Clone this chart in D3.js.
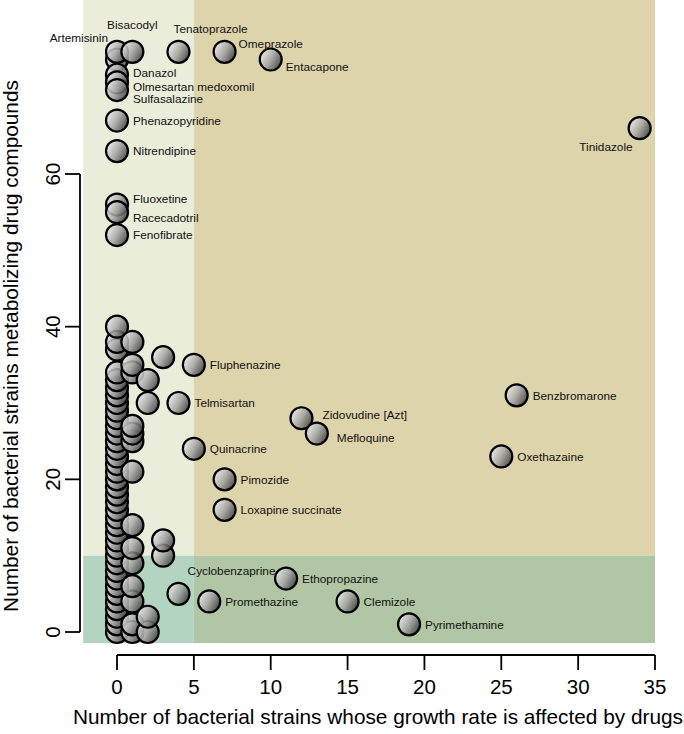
<!DOCTYPE html>
<html>
<head>
<meta charset="utf-8">
<script src="https://cdn.jsdelivr.net/npm/d3@7"></script>
<style>
  html, body { margin: 0; padding: 0; background: #ffffff; }
  svg { display: block; font-family: "Liberation Sans", Arial, Helvetica, sans-serif; }
</style>
</head>
<body>
<svg id="chart" width="684" height="734"></svg>
<script>
// ---------------- data ----------------
// labelled drugs: name, growth-affected strains (x), metabolizing strains (y)
const drugNames = ["Artemisinin","Bisacodyl","Tenatoprazole","Omeprazole","Entacapone",
  "Danazol","Olmesartan medoxomil","Sulfasalazine","Phenazopyridine","Nitrendipine",
  "Fluoxetine","Racecadotril","Fenofibrate","Tinidazole","Fluphenazine","Telmisartan",
  "Zidovudine [Azt]","Mefloquine","Quinacrine","Pimozide","Loxapine succinate",
  "Benzbromarone","Oxethazaine","Cyclobenzaprine","Ethopropazine","Promethazine",
  "Clemizole","Pyrimethamine"];
const drugX = [0,1,4,7,10, 0,0,0,0,0, 0,0,0,34,5,4, 12,13,5,7,7, 26,25,4,11,6, 15,19];
const drugY = [76,76,76,76,75, 73,72,71,67,63, 56,55,52,66,35,30, 28,26,24,20,16, 31,23,5,7,4, 4,1];

// unlabelled drugs
const otherX = [
  0,0,0,0,0,0,0,0,0,0,0,0,0,0,0,0,0,0,0,0,0,0,0,0,0,0,0,0,0,0,0,0,0,0,0,0,0,0,0,
  1,1,1,1,1,1,1,1,1,1,1,1,1,1,
  2,2,2,2,
  3,3,3
];
const otherY = [
  0,1,2,3,4,5,6,7,8,9,10,11,12,13,14,15,16,17,18,19,20,21,22,23,24,25,26,27,28,29,30,31,32,33,34,37,38,40,75,
  0,1,4,6,9,11,14,21,25,26,27,34,35,38,
  0,2,30,33,
  10,12,36
];

const xTicks = [0,5,10,15,20,25,30,35];
const yTicks = [0,20,40,60];
const xTitle = "Number of bacterial strains whose growth rate is affected by drugs";
const yTitle = "Number of bacterial strains metabolizing drug compounds";

// region boundaries (data units)
const xSplit = 5, ySplit = 10;
const xLo = -2.2, xHi = 35, yLo = -1.45, yHi = 84;

// ---------------- layout ----------------
const svg = d3.select("#chart");
const x = d3.scaleLinear().domain([0, 35]).range([117, 655]);
const y = d3.scaleLinear().domain([0, 60]).range([632, 174]);

// label placement (px offsets from point)
const labelPos = {
  "Artemisinin": [-9, -14, "end"],
  "Bisacodyl": [0, -27, "middle"],
  "Tenatoprazole": [-5, -23, "start"],
  "Omeprazole": [14, -8, "start"],
  "Entacapone": [15, 7, "start"],
  "Danazol": [16, -2, "start"],
  "Olmesartan medoxomil": [16, 4, "start"],
  "Sulfasalazine": [16, 9, "start"],
  "Fluoxetine": [16, -6, "start"],
  "Racecadotril": [16, 6, "start"],
  "Tinidazole": [-7, 19, "end"],
  "Zidovudine [Azt]": [21, -3, "start"],
  "Mefloquine": [20, 4, "start"],
  "Cyclobenzaprine": [97, -23, "end"]
};

// ---------------- background regions ----------------
const regions = [
  {x0: xLo, x1: xSplit, y0: ySplit, y1: yHi, c: "#e9edd9"},
  {x0: xSplit, x1: xHi, y0: ySplit, y1: yHi, c: "#ddd4ac"},
  {x0: xLo, x1: xSplit, y0: yLo, y1: ySplit, c: "#b3d4c0"},
  {x0: xSplit, x1: xHi, y0: yLo, y1: ySplit, c: "#b0c6a4"}
];
svg.append("g").selectAll("rect").data(regions).join("rect")
  .attr("x", d => x(d.x0)).attr("y", d => y(d.y1))
  .attr("width", d => x(d.x1) - x(d.x0)).attr("height", d => y(d.y0) - y(d.y1))
  .attr("fill", d => d.c);

// ---------------- gradient ----------------
const defs = svg.append("defs");
const grad = defs.append("linearGradient").attr("id", "ball")
  .attr("x1", "0.05").attr("y1", "0.25").attr("x2", "0.95").attr("y2", "0.75");
grad.append("stop").attr("offset", "0").attr("stop-color", "#ececec");
grad.append("stop").attr("offset", "0.5").attr("stop-color", "#a2a2a2");
grad.append("stop").attr("offset", "1").attr("stop-color", "#3a3a3a");

// ---------------- points ----------------
const others = otherX.map((v, i) => ({x: v, y: otherY[i]}));
const drugs = drugNames.map((n, i) => ({name: n, x: drugX[i], y: drugY[i]}));
const allPts = others.concat(drugs);

svg.append("g").selectAll("circle").data(allPts).join("circle")
  .attr("cx", d => x(d.x)).attr("cy", d => y(d.y)).attr("r", 11)
  .attr("fill", "url(#ball)").attr("fill-opacity", 0.85)
  .attr("stroke", "#000").attr("stroke-width", 2.2);

// labels
svg.append("g").selectAll("text").data(drugs).join("text")
  .attr("x", d => x(d.x) + (labelPos[d.name] ? labelPos[d.name][0] : 16))
  .attr("y", d => y(d.y) + (labelPos[d.name] ? labelPos[d.name][1] : 0) + 4.2)
  .attr("text-anchor", d => labelPos[d.name] ? labelPos[d.name][2] : "start")
  .attr("font-size", "11.8px").attr("fill", "#111")
  .text(d => d.name);

// ---------------- axes ----------------
const axisG = svg.append("g").attr("stroke", "#000").attr("stroke-width", 1.8).attr("fill", "none");
// x axis
axisG.append("line").attr("x1", x(0)).attr("x2", x(35)).attr("y1", 655).attr("y2", 655);
axisG.selectAll(".xt").data(xTicks).join("line").attr("class", "xt")
  .attr("x1", d => x(d)).attr("x2", d => x(d)).attr("y1", 655).attr("y2", 670);
svg.append("g").selectAll("text").data(xTicks).join("text")
  .attr("x", d => x(d)).attr("y", 694).attr("text-anchor", "middle")
  .attr("font-size", "20.5px").attr("fill", "#000").text(d => d);
// y axis
axisG.append("line").attr("x1", 80).attr("x2", 80).attr("y1", y(0)).attr("y2", y(60));
axisG.selectAll(".yt").data(yTicks).join("line").attr("class", "yt")
  .attr("x1", 65).attr("x2", 80).attr("y1", d => y(d)).attr("y2", d => y(d));
svg.append("g").selectAll("text").data(yTicks).join("text")
  .attr("transform", d => `translate(60,${y(d)}) rotate(-90)`)
  .attr("text-anchor", "middle")
  .attr("font-size", "20.5px").attr("fill", "#000").text(d => d);

// titles
svg.append("text").attr("x", 378).attr("y", 724).attr("text-anchor", "middle")
  .attr("font-size", "20.8px").attr("fill", "#000").text(xTitle);
svg.append("text").attr("transform", "translate(18,346) rotate(-90)")
  .attr("text-anchor", "middle")
  .attr("font-size", "20.8px").attr("fill", "#000").text(yTitle);
</script>
</body>
</html>
